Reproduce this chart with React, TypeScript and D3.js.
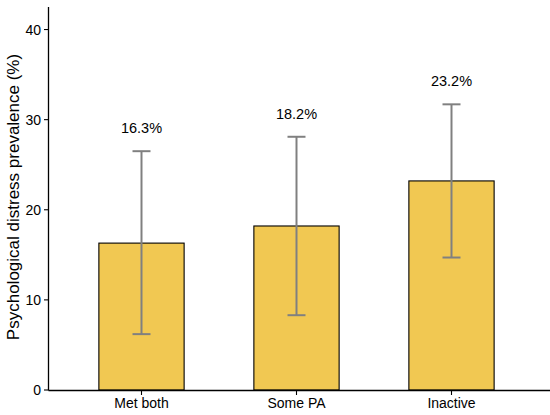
import React from "react";
import * as d3 from "d3";

const categories = ["Met both", "Some PA", "Inactive"];
const prevalence = [16.3, 18.2, 23.2];
const lowerCI = [6.2, 8.3, 14.7];
const upperCI = [26.5, 28.1, 31.7];
const yTicks = [0, 10, 20, 30, 40];

const W = 550;
const H = 415;
const FONT = "'Liberation Sans', Arial, Helvetica, sans-serif";

export default function App() {
  const x = d3.scalePoint<string>().domain(categories).range([48.5, 544.5]).padding(0.6);
  const y = d3.scaleLinear().domain([0, 42.5]).range([390, 7]);
  const step = x.step();
  const barW = step * 0.55;
  const capW = 18;
  const axisX = 48.5;
  const axisY = 390.5;

  return (
    <svg
      width={W}
      height={H}
      viewBox={`0 0 ${W} ${H}`}
      style={{ position: "absolute", left: 0, top: 0, display: "block", background: "#fff" }}
      fontFamily={FONT}
    >
      {categories.map((c, i) => {
        const cx = x(c)!;
        return (
          <g key={c}>
            <rect
              x={cx - barW / 2}
              y={y(prevalence[i])}
              width={barW}
              height={y(0) - y(prevalence[i])}
              fill="#F1C852"
              stroke="#000"
              strokeWidth={1.1}
            />
            <line x1={cx} x2={cx} y1={y(lowerCI[i])} y2={y(upperCI[i])} stroke="#808080" strokeWidth={2} />
            <line x1={cx - capW / 2} x2={cx + capW / 2} y1={y(lowerCI[i])} y2={y(lowerCI[i])} stroke="#808080" strokeWidth={2} />
            <line x1={cx - capW / 2} x2={cx + capW / 2} y1={y(upperCI[i])} y2={y(upperCI[i])} stroke="#808080" strokeWidth={2} />
            <text x={cx} y={y(upperCI[i]) - 18} textAnchor="middle" fontSize={14.5} fill="#000">
              {prevalence[i].toFixed(1)}%
            </text>
          </g>
        );
      })}
      {/* y axis */}
      <line x1={axisX} x2={axisX} y1={7} y2={axisY} stroke="#000" strokeWidth={1.3} />
      {yTicks.map((t) => (
        <g key={t}>
          <line x1={axisX - 4.5} x2={axisX} y1={y(t)} y2={y(t)} stroke="#000" strokeWidth={1.1} />
          <text x={axisX - 7.5} y={y(t)} dy="0.36em" textAnchor="end" fontSize={14} fill="#000">
            {t}
          </text>
        </g>
      ))}
      {/* x axis */}
      <line x1={axisX} x2={550} y1={axisY} y2={axisY} stroke="#000" strokeWidth={1.3} />
      {categories.map((c) => (
        <g key={c}>
          <line x1={x(c)!} x2={x(c)!} y1={axisY} y2={axisY + 4.5} stroke="#000" strokeWidth={1.1} />
          <text x={x(c)!} y={408} textAnchor="middle" fontSize={14} fill="#000">
            {c}
          </text>
        </g>
      ))}
      <text
        transform={`translate(19,197) rotate(-90)`}
        textAnchor="middle"
        fontSize={17}
        fill="#000"
      >
        Psychological distress prevalence (%)
      </text>
    </svg>
  );
}
